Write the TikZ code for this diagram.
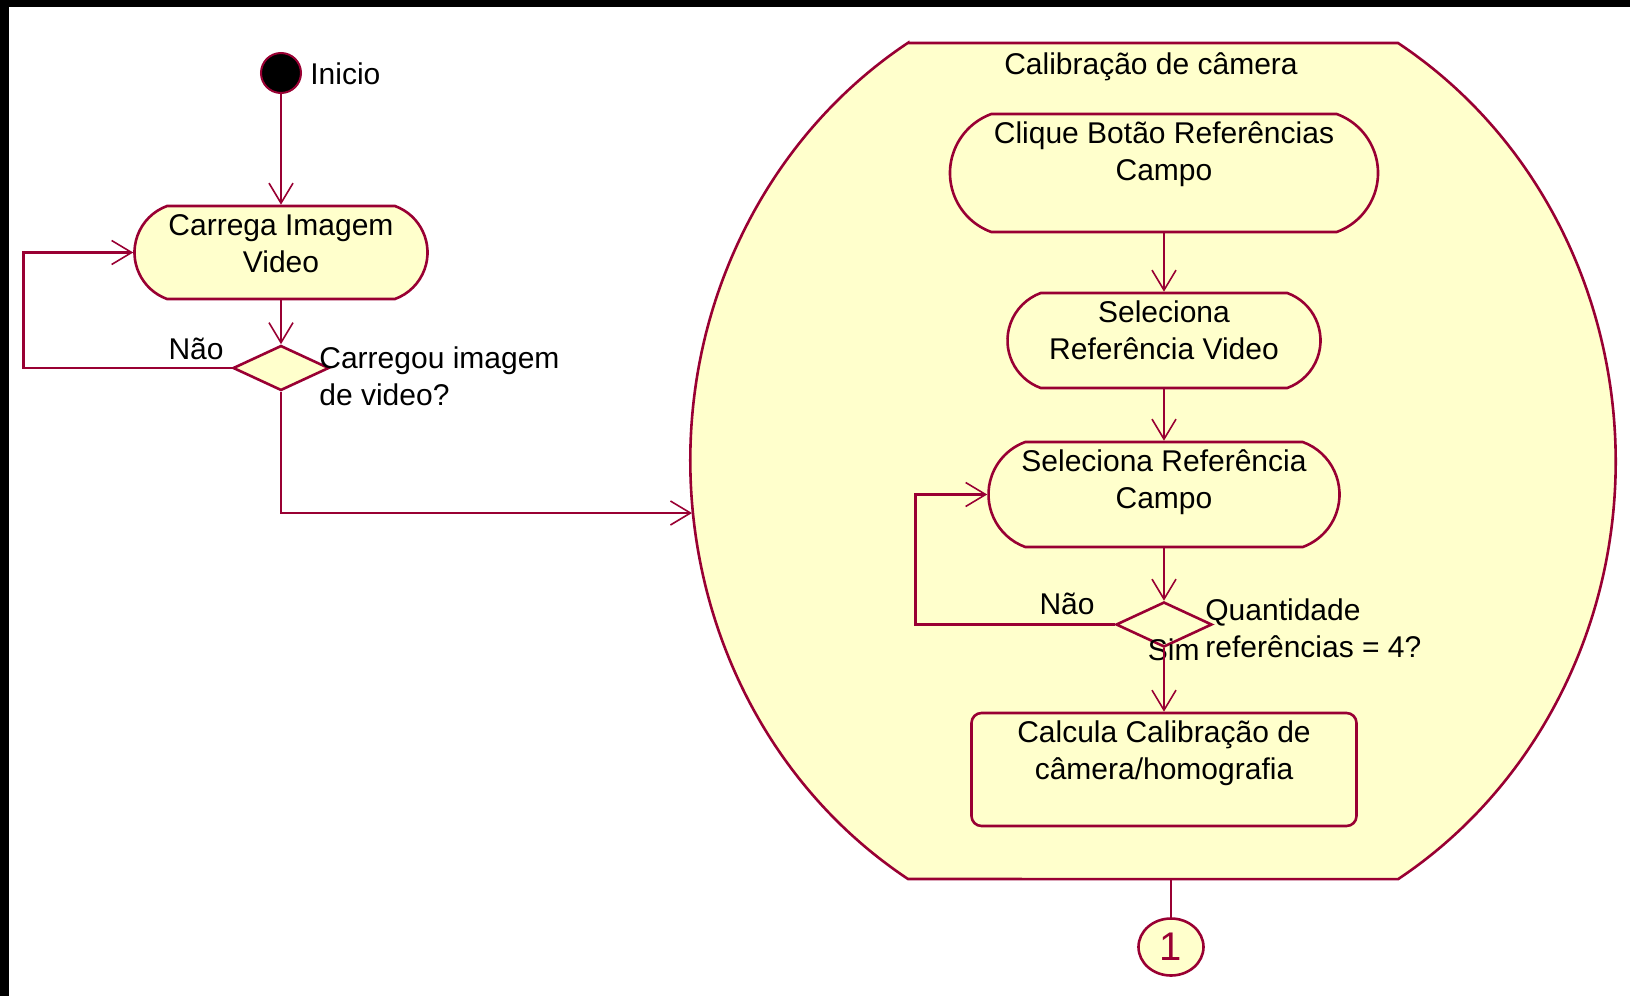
\documentclass[tikz,border=0pt]{standalone}
\usepackage{fontspec}
\setmainfont{Liberation Sans}
\usetikzlibrary{shapes.misc, shapes.geometric, arrows.meta}

\begin{document}
\begin{tikzpicture}[x=0.5pt, y=-0.5pt]

\def \pixel {0.5pt}
\def \colA {281}
\def \colB {1164}

\definecolor{c_line}{RGB}{153,0,51}
\definecolor{c_fill}{RGB}{255,255,204}

\tikzset{
  act/.style={rounded rectangle, rounded rectangle arc length=140, draw=c_line, fill=c_fill, line width=1.3pt, inner sep=0pt},
  box/.style={rectangle, rounded corners=5pt, draw=c_line, fill=c_fill, line width=1.3pt, inner sep=0pt},
  choice/.style={diamond, draw=c_line, fill=c_fill, line width=1.3pt, inner sep=0pt, minimum width=96*\pixel, minimum height=45*\pixel},
  txt/.style={font=\fontsize{15}{18.5}\selectfont, align=center, inner sep=0pt},
  flow/.style={draw=c_line, line width=1.3pt, -{Straight Barb[length=10pt, width=12pt, line width=0.8pt]}},
  wire/.style={draw=c_line, line width=1.3pt}
}

% Page and black border
\useasboundingbox (0,0) rectangle (1630,996);
\fill[white] (0,0) rectangle (1630,996);
\fill[black] (0,0) rectangle (1630,7);
\fill[black] (0,0) rectangle (9,996);

% Calibration state
\draw[wire, fill=c_fill] (908,43) -- (1398,43)
  arc[start angle=58, end angle=-58, x radius=231.5pt, y radius=246.5pt] -- (908,879)
  arc[start angle=238, end angle=122, x radius=231.5pt, y radius=246.5pt] -- cycle;
\coordinate (calibW) at (692,513);
\coordinate (calibS) at (1171,879);
\node (calibT) at (1151,74) [txt, anchor=base] {Calibração de câmera};

% Left column
\node (start) at (\colA,73) [circle, draw=c_line, fill=black, line width=1pt, minimum size=40*\pixel, inner sep=0pt] {};
\node (startT) at (310,84) [txt, anchor=base west] {Inicio};

\node (carrega) at (\colA,252.5) [act, minimum width=293*\pixel, minimum height=93*\pixel] {};
\node (carregaT) at ([yshift=-4.5pt]carrega.north) [txt, anchor=north] {Carrega Imagem\\Video};

\node (d1) at (\colA,368) [choice] {};
\node (d1T) at (319,346) [txt, align=left, anchor=north west] {Carregou imagem\\de video?};
\node (d1No) at (224,359) [txt, anchor=base east] {Não};

% Right column
\node (clique) at (\colB,173) [act, minimum width=428*\pixel, minimum height=118*\pixel] {};
\node (cliqueT) at ([yshift=-4.5pt]clique.north) [txt, anchor=north] {Clique Botão Referências\\Campo};

\node (selvid) at (\colB,340.5) [act, minimum width=313*\pixel, minimum height=95*\pixel] {};
\node (selvidT) at ([yshift=-4.5pt]selvid.north) [txt, anchor=north] {Seleciona\\Referência Video};

\node (selcampo) at (\colB,494.5) [act, minimum width=351*\pixel, minimum height=105*\pixel] {};
\node (selcampoT) at ([yshift=-4.5pt]selcampo.north) [txt, anchor=north] {Seleciona Referência\\Campo};

\node (d2) at (\colB,624.5) [choice] {};
\node (d2T) at (1205,598) [txt, align=left, anchor=north west] {Quantidade\\referências = 4?};
\node (d2No) at (1095,614.5) [txt, anchor=base east] {Não};
\node (d2Yes) at (1200,660) [txt, anchor=base east] {Sim};

\node (calcula) at (\colB,769.5) [box, minimum width=385*\pixel, minimum height=113*\pixel] {};
\node (calculaT) at ([yshift=-4.5pt]calcula.north) [txt, anchor=north] {Calcula Calibração de\\câmera/homografia};

% Connector to next page
\node (one) at (1171,947) [ellipse, draw=c_line, fill=c_fill, line width=1.3pt, minimum width=65*\pixel, minimum height=57*\pixel, inner sep=0pt, text=c_line, font=\fontsize{20}{24}\selectfont] {1};

% Transitions
\draw[flow] (start) -- (carrega);
\draw[flow] (carrega) -- (d1);
\draw[flow] (d1.west) -- ++(-208,0) |- (carrega.west);
\draw[flow] (d1.south) |- (calibW);

\foreach \p/\q in {clique/selvid, selvid/selcampo, selcampo/d2, d2/calcula} {
  \draw[flow] (\p) -- (\q);
}
\draw[flow] (d2.west) -- ++(-199,0) |- (selcampo.west);
\draw[wire] (calibS) -- (one);

\end{tikzpicture}
\end{document}
